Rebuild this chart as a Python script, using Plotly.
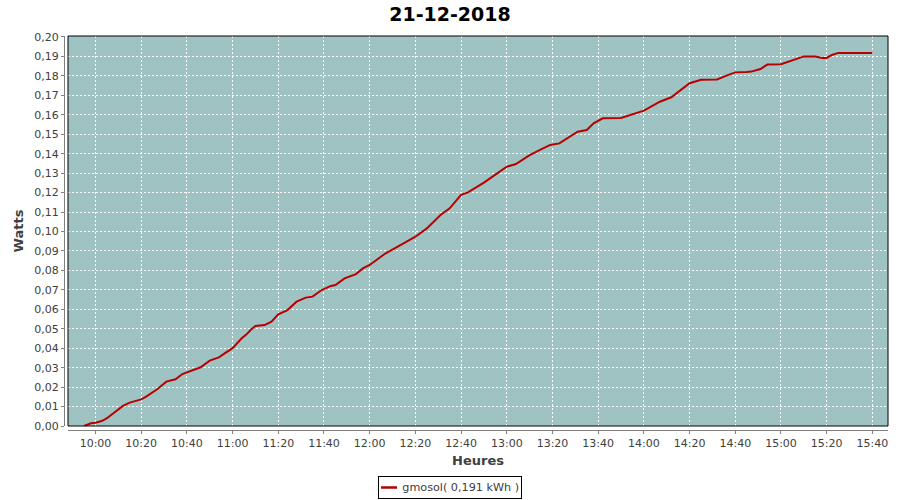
import plotly.graph_objects as go

DAY = "2018-12-21 "
times = ["09:55", "09:58", "10:00", "10:03", "10:05", "10:09", "10:12", "10:15", "10:20", "10:22",
         "10:27", "10:31", "10:35", "10:38", "10:43", "10:46", "10:50", "10:54", "10:57", "11:00",
         "11:04", "11:06", "11:08", "11:10", "11:14", "11:17", "11:20", "11:24", "11:28", "11:32",
         "11:35", "11:39", "11:43", "11:45", "11:49", "11:54", "11:57", "12:00", "12:07", "12:13",
         "12:15", "12:20", "12:25", "12:31", "12:35", "12:40", "12:43", "12:50", "12:57", "13:00",
         "13:04", "13:10", "13:15", "13:19", "13:23", "13:29", "13:31", "13:35", "13:38", "13:42",
         "13:50", "14:00", "14:07", "14:12", "14:20", "14:25", "14:32", "14:37", "14:40", "14:45",
         "14:47", "14:51", "14:54", "15:00", "15:07", "15:10", "15:15", "15:18", "15:20", "15:22",
         "15:25", "15:40"]
watts = [0.000, 0.0014, 0.0017, 0.0027, 0.0040, 0.0074, 0.0103, 0.0120, 0.0137, 0.0150,
         0.0189, 0.0228, 0.0240, 0.0267, 0.0288, 0.0302, 0.0336, 0.0353, 0.0377, 0.0400,
         0.0451, 0.0470, 0.0495, 0.0514, 0.0519, 0.0536, 0.0574, 0.0596, 0.0639, 0.0660,
         0.0665, 0.0699, 0.0720, 0.0725, 0.0759, 0.0781, 0.0810, 0.0828, 0.0888, 0.0930,
         0.0940, 0.0973, 0.1016, 0.1085, 0.1119, 0.1188, 0.1201, 0.1251, 0.1308, 0.1333,
         0.1347, 0.1393, 0.1422, 0.1445, 0.1453, 0.1500, 0.1513, 0.1522, 0.1556, 0.1582,
         0.1584, 0.1621, 0.1667, 0.1690, 0.1762, 0.1780, 0.1782, 0.1805, 0.1818, 0.1820,
         0.1822, 0.1835, 0.1858, 0.1860, 0.1890, 0.1900, 0.1900, 0.1892, 0.1892, 0.1906,
         0.1918, 0.1918]

series_name = "gmosol( 0,191 kWh )"
title_text = "21-12-2018"
x_title = "Heures"
y_title = "Watts"

x = [DAY + t for t in times]

LINE_COLOR = "#b80000"
fig = go.Figure()
fig.add_trace(go.Scatter(x=x, y=watts, mode="lines", name=series_name,
                         line=dict(color=LINE_COLOR, width=2), showlegend=False))

FONT = "DejaVu Sans"
# paper area: x 64..888, y 36..430
PW, PH = 824.0, 394.0
def px(xp):
    return (xp - 64) / PW
def py(yp):
    return (430 - yp) / PH

fig.update_layout(
    width=900, height=500,
    margin=dict(l=64, r=12, t=36, b=70, autoexpand=False),
    paper_bgcolor="white",
    plot_bgcolor="#9fc3c2",
    separators=",.",
    font=dict(family=FONT, size=11, color="#404040"),
    title=dict(text="<b>" + title_text + "</b>", x=0.5, xref="container", xanchor="center",
               y=0.972, yref="container", yanchor="middle",
               font=dict(family=FONT, size=19, color="black")),
    showlegend=False,
    xaxis=dict(
        type="date",
        range=[DAY + "09:47:58", DAY + "15:46:50"],
        domain=[4 / PW, 1],
        anchor="free", position=0, automargin=False,
        tickformat="%H:%M", dtick=20 * 60 * 1000, tick0=DAY + "10:00",
        showgrid=True, gridcolor="white", griddash="2px,2px", gridwidth=1,
        showline=True, linecolor="#808080", linewidth=1,
        ticks="outside", ticklen=3, tickcolor="#808080",
        zeroline=False,
        title=dict(text="<b>" + x_title + "</b>", standoff=6,
                   font=dict(family=FONT, size=13, color="#404040")),
    ),
    yaxis=dict(
        range=[0, 0.2005],
        domain=[4 / PH, 1],
        anchor="free", position=0, automargin=False,
        tickformat=".2f", dtick=0.01, tick0=0,
        showgrid=True, gridcolor="white", griddash="2px,2px", gridwidth=1,
        showline=True, linecolor="#808080", linewidth=1,
        ticks="outside", ticklen=3, tickcolor="#808080",
        zeroline=False,
        title=dict(text="<b>" + y_title + "</b>", standoff=6,
                   font=dict(family=FONT, size=13, color="#404040")),
    ),
)

fig.add_shape(type="rect", xref="x domain", yref="y domain", x0=0, x1=1, y0=0, y1=1,
              line=dict(color="black", width=1), layer="above")

# legend box drawn manually (JFreeChart style)
fig.add_annotation(xref="paper", yref="paper", x=px(450), y=py(487.5),
                   xanchor="center", yanchor="middle", showarrow=False,
                   text=series_name, width=138, height=17, align="right", valign="middle",
                   bordercolor="black", borderwidth=1, borderpad=2, bgcolor="rgba(0,0,0,0)",
                   font=dict(family=FONT, size=11.2, color="#404040"))
fig.add_shape(type="line", xref="paper", yref="paper", x0=px(381), x1=px(397),
              y0=py(487.5), y1=py(487.5), line=dict(color=LINE_COLOR, width=2.5),
              layer="above")

fig.write_html("out.html", config={"displayModeBar": False},
               post_script="document.body.style.margin='0';document.body.style.padding='0';")
